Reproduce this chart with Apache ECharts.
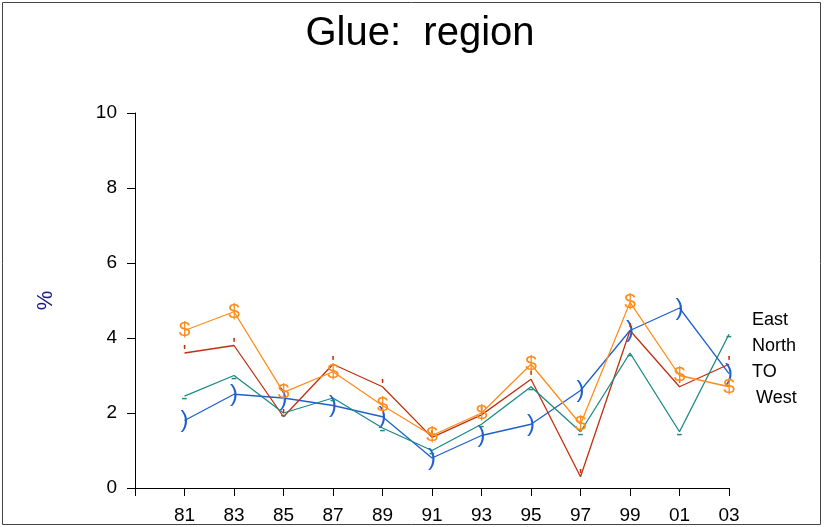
<!DOCTYPE html>
<html>
<head>
<meta charset="utf-8">
<script src="https://cdn.jsdelivr.net/npm/echarts@6/dist/echarts.min.js"></script>
<style>html,body{margin:0;padding:0;background:#fff}#c{width:824px;height:527px}</style>
</head>
<body>
<div id="c"></div>
<script>
const years = [81, 83, 85, 87, 89, 91, 93, 95, 97, 99, 101, 103];
const yearLabels = ['81','83','85','87','89','91','93','95','97','99','01','03'];
const seriesNames = ['East', 'North', 'TO', 'West'];
const east  = [1.8, 2.5, 2.4, 2.2, 1.9, 0.8, 1.4, 1.7, 2.6, 4.2, 4.8, 3.05];
const north = [3.6, 3.8, 1.9, 3.3, 2.7, 1.35, 1.95, 2.9, 0.3, 4.2, 2.7, 3.3];
const to    = [2.45, 3.0, 2.0, 2.4, 1.6, 1.0, 1.7, 2.7, 1.5, 3.6, 1.5, 4.1];
const west  = [4.2, 4.7, 2.55, 3.1, 2.2, 1.4, 2.0, 3.3, 1.7, 4.95, 3.0, 2.7];
const markerChars = [')', "'", '-', '$'];
const colors = ['#1f5fd0', '#c0300f', '#1a8a82', '#ff8c1a'];
const markerSizes = [24, 19, 19, 21];
const values = [east, north, to, west];
const FONT = 'Liberation Sans, Arial, sans-serif';

const chart = echarts.init(document.getElementById('c'));
const series = seriesNames.map((name, i) => ({
  name: name,
  type: 'line',
  data: years.map((y, j) => [y, values[i][j]]),
  symbol: 'circle',
  symbolSize: 1,
  itemStyle: { color: colors[i], opacity: 0 },
  lineStyle: { color: colors[i], width: 1.3 },
  label: {
    show: true,
    position: 'inside',
    offset: i === 2 ? [0, 3] : [0, 0],
    formatter: markerChars[i],
    color: colors[i],
    fontSize: markerSizes[i],
    fontFamily: FONT,
    opacity: 1
  },
  emphasis: { disabled: true },
  animation: false
}));

chart.setOption({
  animation: false,
  grid: { left: 135, right: 95, top: 113, bottom: 39 },
  legend: {
    data: seriesNames.map(n => n === 'West'
      ? { name: n, icon: 'none', textStyle: { padding: [0, 0, 0, 4] } }
      : { name: n, icon: 'none' }),
    orient: 'vertical',
    left: 742,
    top: 306,
    itemWidth: 0,
    itemHeight: 18,
    itemGap: 8,
    selectedMode: false,
    textStyle: { color: '#000', fontSize: 18, fontFamily: FONT }
  },
  xAxis: {
    type: 'value',
    min: 79,
    max: 103,
    interval: 2,
    splitLine: { show: false },
    axisLine: { lineStyle: { color: '#000', width: 1 } },
    axisTick: { lineStyle: { color: '#000' }, length: 8 },
    axisLabel: {
      color: '#000', fontSize: 19, fontFamily: FONT, margin: 18,
      formatter: v => { const k = years.indexOf(v); return k >= 0 ? yearLabels[k] : ''; }
    }
  },
  yAxis: {
    type: 'value',
    min: 0,
    max: 10,
    interval: 2,
    name: '%',
    nameLocation: 'middle',
    nameGap: 78,
    nameRotate: 90,
    nameTextStyle: { color: '#1a1a8a', fontSize: 22, fontFamily: FONT },
    splitLine: { show: false },
    axisLine: { show: true, lineStyle: { color: '#000', width: 1 } },
    axisTick: { show: true, lineStyle: { color: '#000' }, length: 8 },
    axisLabel: { color: '#000', fontSize: 19, fontFamily: FONT, margin: 18 }
  },
  graphic: [
    { type: 'rect', shape: { x: 2.5, y: 2.5, width: 818, height: 522 }, style: { fill: 'none', stroke: '#444', lineWidth: 1 }, silent: true },
    { type: 'text', x: 420, y: 34, style: { text: 'Glue:  region', fill: '#000', font: '40px ' + FONT, textAlign: 'center', textVerticalAlign: 'middle' }, silent: true }
  ],
  series: series
});
</script>
</body>
</html>
